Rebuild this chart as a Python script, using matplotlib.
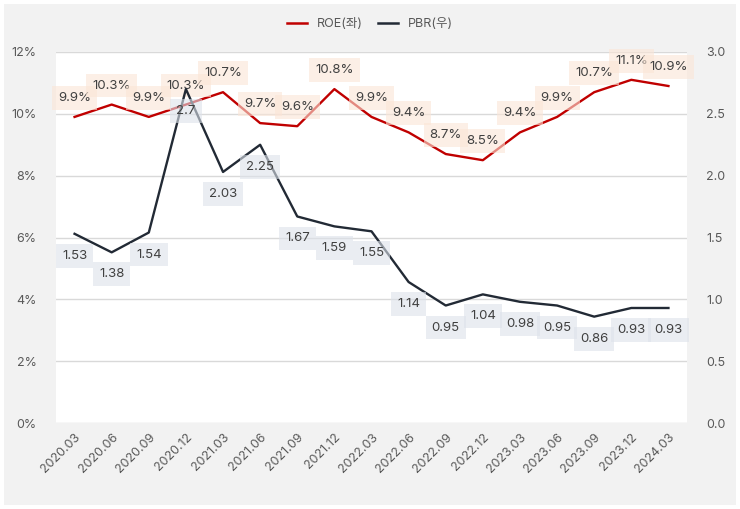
import matplotlib.pyplot as plt
from matplotlib.patches import Rectangle
from matplotlib.ticker import FuncFormatter

plt.rcParams['font.family'] = ['Inter', 'Noto Sans CJK KR', 'DejaVu Sans']

quarters = ["2020.03", "2020.06", "2020.09", "2020.12", "2021.03", "2021.06", "2021.09",
            "2021.12", "2022.03", "2022.06", "2022.09", "2022.12", "2023.03", "2023.06",
            "2023.09", "2023.12", "2024.03"]
roe = [9.9, 10.3, 9.9, 10.3, 10.7, 9.7, 9.6, 10.8, 9.9, 9.4, 8.7, 8.5, 9.4, 9.9, 10.7, 11.1, 10.9]
pbr = [1.53, 1.38, 1.54, 2.7, 2.03, 2.25, 1.67, 1.59, 1.55, 1.14, 0.95, 1.04, 0.98, 0.95, 0.86, 0.93, 0.93]

red = "#c00000"
navy = "#222a35"
grey_txt = "#595959"

fig = plt.figure(figsize=(7.4, 5.09), dpi=100, facecolor="white")
fig.patches.append(Rectangle((4 / 740, 4 / 509), 732 / 740, 501 / 509, transform=fig.transFigure,
                             facecolor="#f2f2f2", edgecolor="none", zorder=-10))

ax = fig.add_axes([56 / 740, 1 - 423 / 509, 631 / 740, 371 / 509])
ax.set_facecolor("white")
ax2 = ax.twinx()

x = list(range(len(quarters)))
ax.plot(x, roe, color=red, lw=1.7, zorder=3)
ax2.plot(x, pbr, color=navy, lw=1.7, zorder=3)

ax.set_ylim(0, 12)
ax.set_yticks([0, 2, 4, 6, 8, 10, 12])
ax.yaxis.set_major_formatter(FuncFormatter(lambda v, p: f"{v:.0f}%"))
ax2.set_ylim(0, 3.0)
ax2.set_yticks([0, 0.5, 1.0, 1.5, 2.0, 2.5, 3.0])
ax2.yaxis.set_major_formatter(FuncFormatter(lambda v, p: f"{v:.1f}"))
ax.set_xlim(-0.5, len(quarters) - 0.5)
ax.set_xticks(x)
ax.set_xticklabels(quarters, rotation=45, ha="right", rotation_mode="anchor")

ax.grid(axis="y", color="#d9d9d9", lw=1)
ax.set_axisbelow(True)
for a in (ax, ax2):
    for s in a.spines.values():
        s.set_visible(False)
    a.tick_params(length=0, labelsize=9, labelcolor=grey_txt)
ax.tick_params(axis="y", pad=14)
ax2.tick_params(axis="y", pad=14)
ax.tick_params(axis="x", pad=6)

for xi, v in zip(x, roe):
    ax.annotate(f"{v:.1f}%", (xi, v), xytext=(0, 19), textcoords="offset pixels",
                ha="center", va="center", fontsize=9.5, color="#404040", zorder=5,
                bbox=dict(boxstyle="square,pad=0.45", fc="#fbe5d6", ec="none", alpha=0.6))
for xi, v in zip(x, pbr):
    ax2.annotate(f"{v:g}", (xi, v), xytext=(0, -22), textcoords="offset pixels",
                 ha="center", va="center", fontsize=9.5, color="#404040", zorder=5,
                 bbox=dict(boxstyle="square,pad=0.45", fc="#dde2ea", ec="none", alpha=0.6))

h1, = ax.plot([], [], color=red, lw=1.8, label="ROE(좌)")
h2, = ax.plot([], [], color=navy, lw=1.8, label="PBR(우)")
fig.legend(handles=[h1, h2], loc="center", bbox_to_anchor=(370 / 740, 1 - 24 / 509), ncol=2,
           frameon=False, fontsize=9, handlelength=1.6, columnspacing=1.2, labelcolor=grey_txt)

fig.savefig("out.png", dpi=100)
